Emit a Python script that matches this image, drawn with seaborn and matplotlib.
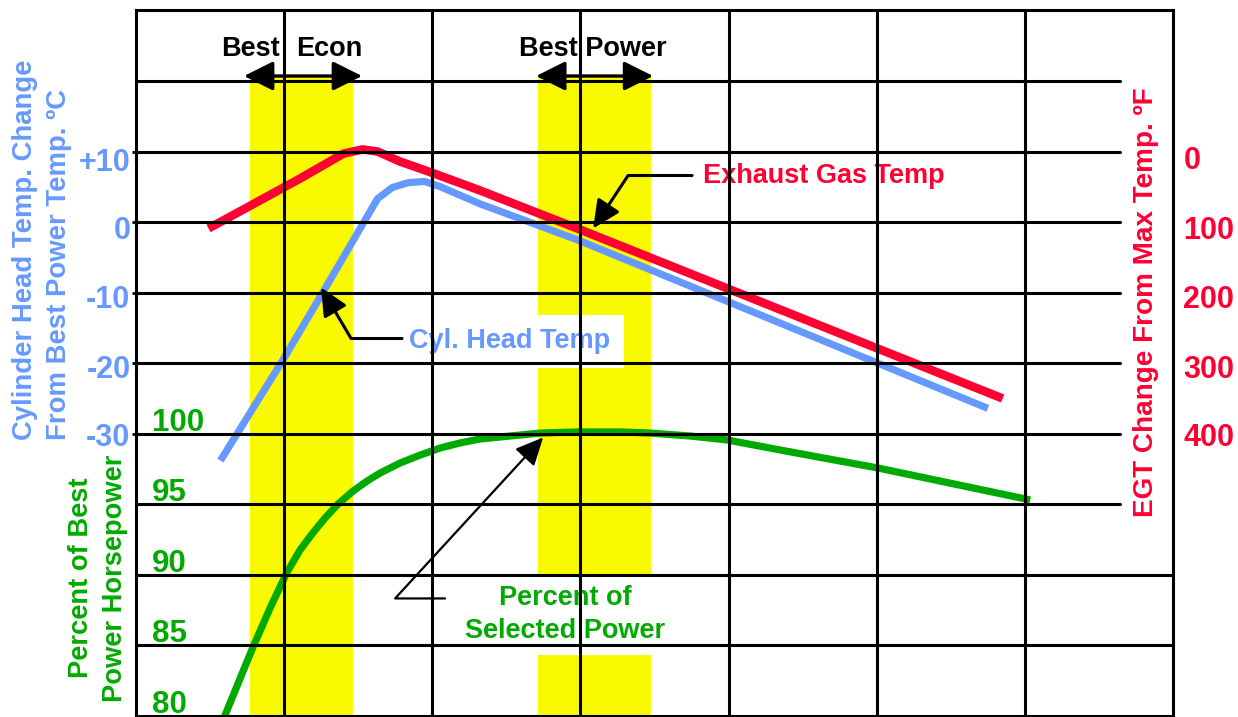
import matplotlib
matplotlib.use("Agg")
import matplotlib.pyplot as plt
import matplotlib.transforms as mtransforms
import seaborn as sns

# ---------------- data ----------------
# x = mixture setting, in grid columns (rich on the left, lean to the right)
egt_x = [0.49, 1.11, 1.40, 1.53, 1.63, 1.78, 2.01, 2.32, 2.99, 5.85]
egt_f = [109, 38, 3, -3, 0, 14, 31, 55, 110, 350]          # EGT change from max, °F

cht_x = [0.57, 0.99, 1.26, 1.53, 1.63, 1.73, 1.84, 1.95, 2.05, 2.32, 2.99, 5.75]
cht_c = [-33.8, -19.6, -10.0, -0.3, 3.3, 4.9, 5.6, 5.75, 5.05, 2.6, -2.6, -26.4]  # CHT change, °C

pwr_x = [0.574, 0.682, 0.790, 0.905, 1.020, 1.107, 1.188, 1.276, 1.364, 1.465,
         1.560, 1.648, 1.783, 1.918, 2.053, 2.188, 2.323, 2.458, 2.728, 2.984,
         3.268, 3.471, 3.741, 3.991, 4.348, 5.010, 6.036]
pwr_pct = [79.36, 82.13, 84.89, 87.65, 90.20, 91.76, 92.90, 94.03, 95.02, 95.94,
           96.65, 97.22, 97.93, 98.49, 98.99, 99.35, 99.63, 99.77, 100.05, 100.13,
           100.13, 100.05, 99.84, 99.56, 98.85, 97.57, 95.31]   # % of best power

cht_ticks = [10, 0, -10, -20, -30]
cht_tick_labels = ["+10", "0", "-10", "-20", "-30"]
egt_ticks = [0, 100, 200, 300, 400]
egt_tick_labels = ["0", "100", "200", "300", "400"]
pwr_ticks = [100, 95, 90, 85, 80]

best_econ_band = (0.77, 1.465)
best_power_band = (2.714, 3.477)

grid_cols = [1, 2, 3, 4, 5, 6]
grid_rows_short = [20, 10, 0, -10, -20, -30, -40]
grid_rows_long = [-50, -60]

# ---------------- style ----------------
RED = "#FF0033"
BLUE = "#6699FF"
GREEN = "#00AA00"
YELLOW = "#F9F900"

sns.set_theme(style="white")
plt.rcParams["font.family"] = ["Liberation Sans", "DejaVu Sans"]
plt.rcParams["font.weight"] = "bold"

fig = plt.figure(figsize=(12.38, 7.17), dpi=100, facecolor="white")
ax = fig.add_axes([136 / 1238, 1 / 717, 1037 / 1238, 705.6 / 717])
ax_egt = ax.twinx()
ax_pw = ax.twinx()
ax_egt.set_zorder(1)
ax_pw.set_zorder(2)
ax.set_zorder(3)
ax.patch.set_visible(False)

# yellow bands (bottom layer)
for b in (best_econ_band, best_power_band):
    ax_egt.axvspan(b[0], b[1], ymin=0, ymax=0.905, color=YELLOW, lw=0, zorder=0)

line_kw = dict(solid_capstyle="butt", solid_joinstyle="round", sort=False)
sns.lineplot(x=egt_x, y=egt_f, ax=ax_egt, color=RED, lw=6.2, zorder=2, **line_kw)
sns.lineplot(x=pwr_x, y=pwr_pct, ax=ax_pw, color=GREEN, lw=5.2, zorder=2, **line_kw)
sns.lineplot(x=cht_x, y=cht_c, ax=ax, color=BLUE, lw=5.2, zorder=2, **line_kw)

# grid on top
for r in grid_rows_short:
    ax.axhline(r, xmin=0, xmax=6.64 / 7, color="black", lw=2.2, zorder=10)
for r in grid_rows_long:
    ax.axhline(r, xmin=0, xmax=1, color="black", lw=2.2, zorder=10)
for c in grid_cols:
    ax.axvline(c, color="black", lw=2.2, zorder=10)

# limits
ax.set_xlim(0, 7)
ax.set_ylim(-70, 30)
ax_egt.set_ylim(800, -200)
ax_pw.set_ylim(80, 130)

# spines
for s in ax.spines.values():
    s.set_visible(True)
    s.set_color("black")
    s.set_linewidth(2.2)
for a in (ax_egt, ax_pw):
    for s in a.spines.values():
        s.set_visible(False)

# ticks
ax.set_xticks([])
ax.set_yticks(cht_ticks, cht_tick_labels)
ax.tick_params(axis="y", left=True, right=False, length=3, width=2, color="black",
               labelcolor=BLUE, labelsize=22, pad=1)
ax_egt.set_yticks(egt_ticks, egt_tick_labels)
ax_egt.tick_params(axis="y", right=True, left=False, length=0, labelcolor=RED,
                   labelsize=22, pad=7.5)
ax_pw.set_yticks([])

# small downward nudges of tick labels (pixels), as in the reference
blue_nudge = [8, 5, 4, 3, 1]
red_nudge = [6, 5, 4, 3, 1]
for labs, nudges in ((ax.get_yticklabels(), blue_nudge), (ax_egt.get_yticklabels(), red_nudge)):
    for lab, n in zip(labs, nudges):
        lab.set_fontweight("bold")
        lab.set_transform(lab.get_transform()
                          + mtransforms.ScaledTranslation(0, -n / 100, fig.dpi_scale_trans))

for p in pwr_ticks:
    ax_pw.annotate(str(p), xy=(0.108, p), xytext=(0, 2.2), textcoords="offset points",
                   ha="left", va="baseline", color=GREEN, fontsize=22.5,
                   fontweight="bold", zorder=4)

# axis titles
fig.text(42.5 / 1238, 1 - 440 / 717, "Cylinder Head Temp. Change\nFrom Best Power Temp. ºC",
         rotation=90, ha="center", va="bottom", multialignment="left", linespacing=1.4,
         color=BLUE, fontsize=19.8, fontweight="bold")
fig.text(98 / 1238, 1 - 578 / 717, "Percent of Best\nPower Horsepower",
         rotation=90, ha="center", va="center", multialignment="center", linespacing=1.4,
         color=GREEN, fontsize=19.6, fontweight="bold")
fig.text(1146 / 1238, 1 - 302 / 717, "EGT Change From Max Temp. ºF",
         rotation=90, ha="center", va="center", color=RED, fontsize=20.1, fontweight="bold")

# annotations
tkw = dict(fontsize=19.5, fontweight="bold", zorder=5)
ax.text(0.972, 23.6, "Best", ha="right", va="baseline", color="black", **tkw)
ax.text(1.080, 23.6, "Econ", ha="left", va="baseline", color="black", **tkw)
ax.text(3.082, 23.6, "Best Power", ha="center", va="baseline", color="black", **tkw)

dbl = dict(arrowstyle="<|-|>,head_length=0.9,head_width=0.45", lw=2.4, color="black",
           shrinkA=0, shrinkB=0, mutation_scale=20)
ax.annotate("", xy=(0.729, 20.7), xytext=(1.526, 20.7), arrowprops=dbl, zorder=6)
ax.annotate("", xy=(2.701, 20.7), xytext=(3.491, 20.7), arrowprops=dbl, zorder=6)

ax.text(3.826, 5.5, "Exhaust Gas Temp", ha="left", va="baseline", color=RED, **tkw)
ax.annotate("", xy=(3.086, -0.9), xytext=(3.754, 6.6), zorder=6,
            arrowprops=dict(arrowstyle="-|>,head_length=0.85,head_width=0.4",
                            connectionstyle="angle,angleA=0,angleB=56.6,rad=0",
                            lw=2.2, color="black", shrinkA=0, shrinkB=0, mutation_scale=20))

ax.text(1.843, -17.9, "Cyl. Head Temp", ha="left", va="baseline", color=BLUE,
        bbox=dict(boxstyle="square,pad=0.5", fc="white", ec="none"), **tkw)
ax.annotate("", xy=(1.249, -9.27), xytext=(1.796, -16.5), zorder=6,
            arrowprops=dict(arrowstyle="-|>,head_length=0.85,head_width=0.4",
                            connectionstyle="angle,angleA=0,angleB=120.5,rad=0",
                            lw=2.2, color="black", shrinkA=0, shrinkB=0, mutation_scale=20))

ax.text(2.897, -55.6, "Percent of\nSelected Power", ha="center", va="center",
        multialignment="center", linespacing=1.35, color=GREEN,
        bbox=dict(boxstyle="square,pad=0.4", fc="white", ec="none"), **tkw)
ax.annotate("", xy=(2.748, -30.53), xytext=(2.086, -53.34), zorder=6,
            arrowprops=dict(arrowstyle="-|>,head_length=0.85,head_width=0.4",
                            connectionstyle="angle,angleA=0,angleB=47.4,rad=0",
                            lw=1.6, color="black", shrinkA=0, shrinkB=0, mutation_scale=20))

fig.savefig("out.png", dpi=100, facecolor="white")
